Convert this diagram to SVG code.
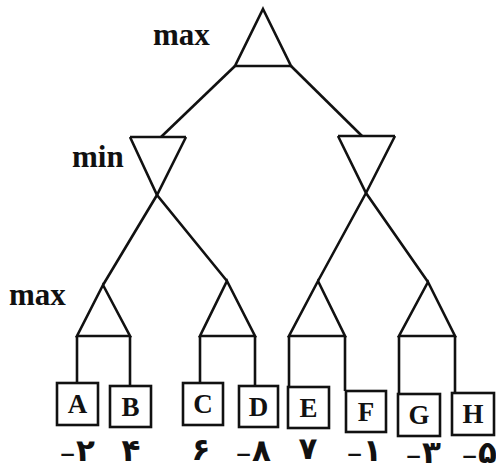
<svg xmlns="http://www.w3.org/2000/svg" width="496" height="470" viewBox="0 0 496 470">
<style>
.ln{fill:none;stroke:#111;stroke-width:2.6;stroke-linejoin:miter}
.bx{fill:#fff;stroke:#111;stroke-width:2.6}
.lvl{font-family:"Liberation Serif","Times New Roman",serif;font-weight:bold;font-size:31px;fill:#111}
.lt{font-family:"Liberation Serif","Times New Roman",serif;font-weight:bold;font-size:27px;fill:#111;text-anchor:middle}
.val{font-family:"DejaVu Sans","Noto Sans",sans-serif;font-weight:bold;font-size:31px;fill:#111;text-anchor:middle;direction:ltr}
.mn{font-size:20px}
</style>
<rect width="496" height="470" fill="#fff"/>
<text class="lvl" x="153" y="45">max</text>
<text class="lvl" x="72" y="167">min</text>
<text class="lvl" x="9" y="305">max</text>
<g id="connectors">
<path class="ln" d="M235,66 L161,137"/>
<path class="ln" d="M291,66 L362,136"/>
<path class="ln" d="M130,137 L157,195 L227,281"/>
<path class="ln" d="M186,137 L157,195 L103,285"/>
<path class="ln" d="M338,136 L366,193 L428,282"/>
<path class="ln" d="M395,136 L366,193 L318,281"/>
<path class="ln" d="M77,336 V383"/>
<path class="ln" d="M130,336 V386"/>
<path class="ln" d="M200,336 V383"/>
<path class="ln" d="M255,336 V386"/>
<path class="ln" d="M289,336 V387"/>
<path class="ln" d="M345,336 V391"/>
<path class="ln" d="M399,336 V394"/>
<path class="ln" d="M455,336 V393"/>
</g>
<g id="root"><path class="ln" d="M263,9 L291,66 L235,66 Z"/></g>
<g id="min1"><path class="ln" d="M130,137 L186,137"/></g>
<g id="min2"><path class="ln" d="M338,136 L395,136"/></g>
<g id="max1"><path class="ln" d="M103,285 L130,336 L77,336 Z"/></g>
<g id="max2"><path class="ln" d="M227,281 L255,336 L200,336 Z"/></g>
<g id="max3"><path class="ln" d="M318,281 L345,336 L289,336 Z"/></g>
<g id="max4"><path class="ln" d="M428,282 L455,336 L399,336 Z"/></g>
<g id="A"><rect class="bx" x="57" y="383" width="41" height="42"/><text class="lt" x="77.5" y="413">A</text><text class="val" x="77" y="461"><tspan class="mn">−</tspan>۲</text></g>
<g id="B"><rect class="bx" x="110" y="386" width="41" height="41"/><text class="lt" x="130.5" y="415.5">B</text><text class="val" x="131" y="461">۴</text></g>
<g id="C"><rect class="bx" x="183" y="383" width="40" height="42"/><text class="lt" x="203" y="413">C</text><text class="val" x="201" y="460">۶</text></g>
<g id="D"><rect class="bx" x="239" y="386" width="39" height="41"/><text class="lt" x="258.5" y="415.5">D</text><text class="val" x="253" y="461"><tspan class="mn">−</tspan>۸</text></g>
<g id="E"><rect class="bx" x="288" y="387" width="41" height="41"/><text class="lt" x="308.5" y="416.5">E</text><text class="val" x="308" y="459">۷</text></g>
<g id="F"><rect class="bx" x="346" y="391" width="40" height="41"/><text class="lt" x="366" y="420.5">F</text><text class="val" x="364" y="461"><tspan class="mn">−</tspan>۱</text></g>
<g id="G"><rect class="bx" x="398" y="394" width="42" height="42"/><text class="lt" x="419" y="424">G</text><text class="val" x="423" y="463"><tspan class="mn">−</tspan>۳</text></g>
<g id="H"><rect class="bx" x="452" y="393" width="42" height="42"/><text class="lt" x="473" y="423">H</text><text class="val" x="479" y="463"><tspan class="mn">−</tspan>۵</text></g>
</svg>
